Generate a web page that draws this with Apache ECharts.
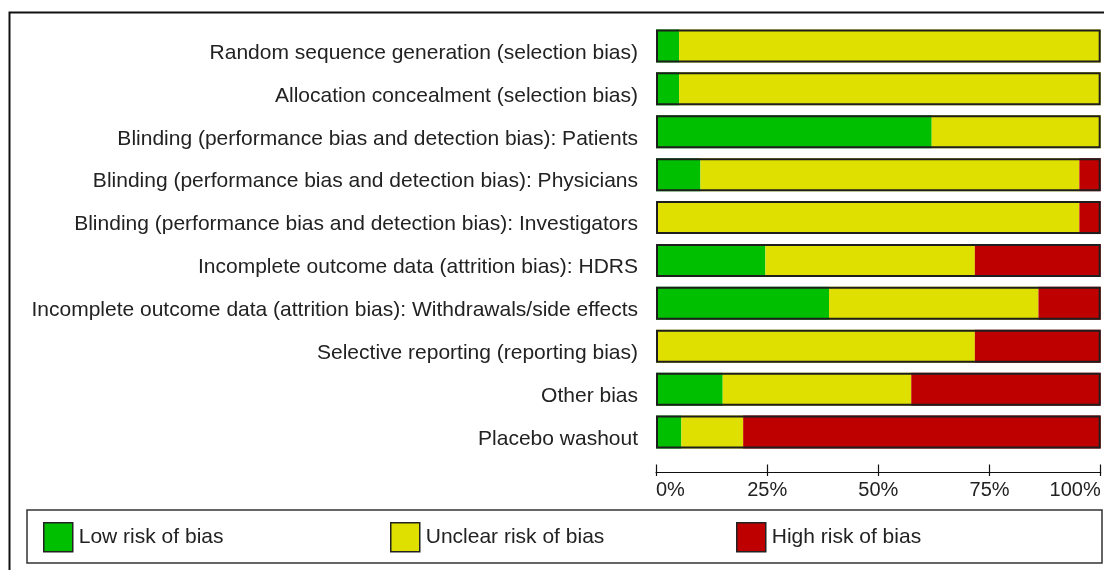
<!DOCTYPE html>
<html>
<head>
<meta charset="utf-8">
<script src="https://cdn.jsdelivr.net/npm/echarts@6/dist/echarts.min.js"></script>
<style>
html,body{margin:0;padding:0;background:#fff;}
#chart{width:1104px;height:570px;}
</style>
</head>
<body>
<div id="chart"></div>
<script>
const categories = [
  'Random sequence generation (selection bias)',
  'Allocation concealment (selection bias)',
  'Blinding (performance bias and detection bias): Patients',
  'Blinding (performance bias and detection bias): Physicians',
  'Blinding (performance bias and detection bias): Investigators',
  'Incomplete outcome data (attrition bias): HDRS',
  'Incomplete outcome data (attrition bias): Withdrawals/side effects',
  'Selective reporting (reporting bias)',
  'Other bias',
  'Placebo washout'
];
const lowRisk     = [5.2, 5.2, 62.0, 10.0, 0,    24.6, 38.9, 0,    15.0, 5.7];
const unclearRisk = [94.8, 94.8, 38.0, 85.2, 95.2, 47.1, 47.1, 71.7, 42.4, 13.9];
const highRisk    = [0,   0,   0,    4.8,  4.8,  28.3, 14.0, 28.3, 42.6, 80.4];
const totals      = [100, 100, 100, 100, 100, 100, 100, 100, 100, 100];
const tickValues  = [0, 25, 50, 75, 100];
const seriesNames = ['Low risk of bias', 'Unclear risk of bias', 'High risk of bias'];
const seriesColors = ['#00bf00', '#dfdf00', '#bf0000'];

const FONT = '"Liberation Sans", Arial, sans-serif';
const chart = echarts.init(document.getElementById('chart'), null, {renderer: 'canvas'});

const stackData = [lowRisk, unclearRisk, highRisk];
const series = stackData.map((d, i) => ({
  name: seriesNames[i],
  type: 'bar',
  stack: 'risk',
  barWidth: 33,
  data: d,
  itemStyle: {color: seriesColors[i], borderWidth: 0},
  silent: true
}));
series.push({
  name: 'frame',
  type: 'bar',
  barWidth: 33,
  barGap: '-100%',
  data: totals,
  z: 5,
  itemStyle: {color: 'rgba(0,0,0,0)', borderColor: '#1e1e1e', borderWidth: 2},
  silent: true
});

function legendAt(left, name) {
  return {
    left: left, top: 522, padding: 0,
    itemWidth: 29, itemHeight: 29, itemGap: 0,
    icon: 'rect',
    data: [name],
    selectedMode: false,
    itemStyle: {borderColor: '#222', borderWidth: 1.5},
    textStyle: {fontFamily: FONT, fontSize: 21, color: '#222', padding: [0, 0, 0, 1]}
  };
}

chart.setOption({
  animation: false,
  backgroundColor: '#fff',
  grid: {left: 656, right: 3.3, top: 24.5, bottom: 116.5, containLabel: false},
  legend: [
    legendAt(43, seriesNames[0]),
    legendAt(390, seriesNames[1]),
    legendAt(736, seriesNames[2])
  ],
  xAxis: [
    {
      type: 'value', min: 0, max: 100, interval: 25, position: 'bottom', offset: 19,
      splitLine: {show: false},
      axisLine: {show: true, lineStyle: {color: '#111', width: 1.2}},
      axisTick: {show: true, inside: true, length: 8, lineStyle: {color: '#111', width: 1.2}},
      axisLabel: {
        show: true, margin: 8, fontFamily: FONT, fontSize: 20, color: '#222',
        alignMinLabel: 'left', alignMaxLabel: 'right',
        formatter: v => (tickValues.indexOf(v) >= 0 ? v + '%' : '')
      }
    },
    {
      type: 'value', min: 0, max: 100, interval: 25, position: 'bottom', offset: 19,
      splitLine: {show: false},
      axisLine: {show: false},
      axisTick: {show: true, inside: false, length: 3.5, lineStyle: {color: '#111', width: 1.2}},
      axisLabel: {show: false}
    }
  ],
  yAxis: {
    type: 'category', inverse: true, data: categories,
    axisLine: {show: false}, axisTick: {show: false}, splitLine: {show: false},
    axisLabel: {margin: 18, fontFamily: FONT, fontSize: 21, color: '#222',
                verticalAlign: 'top', lineHeight: 14}
  },
  graphic: [
    {type: 'polyline', silent: true, shape: {points: [[9.5, 570], [9.5, 12.5], [1104, 12.5]]},
     style: {stroke: '#111', lineWidth: 2, fill: null}},
    {type: 'rect', silent: true, shape: {x: 27, y: 510, width: 1075, height: 53},
     style: {stroke: '#333', lineWidth: 1.5, fill: null}}
  ],
  series: series
});
</script>
</body>
</html>
